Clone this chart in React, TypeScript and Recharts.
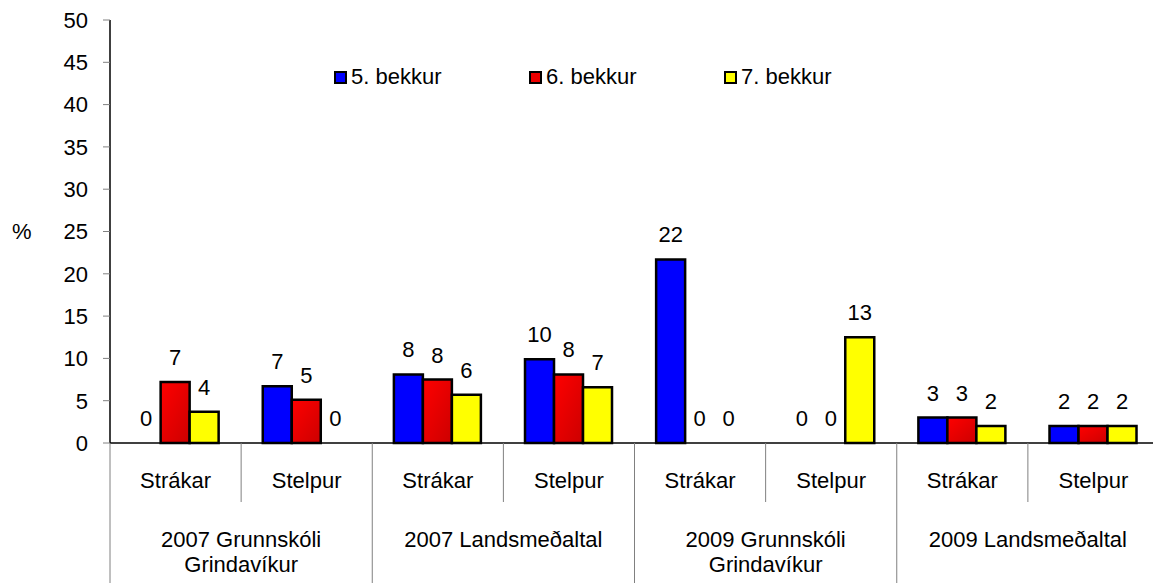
import React from 'react';
import { BarChart, Bar, XAxis, YAxis, LabelList, Legend, Rectangle } from 'recharts';

const CATEGORIES = ['Strákar', 'Stelpur', 'Strákar', 'Stelpur', 'Strákar', 'Stelpur', 'Strákar', 'Stelpur'];
const GROUP_LINES = [
  ['2007 Grunnskóli', 'Grindavíkur'],
  ['2007 Landsmeðaltal'],
  ['2009 Grunnskóli', 'Grindavíkur'],
  ['2009 Landsmeðaltal'],
];
const BEKKUR5 = [0, 6.7, 8.1, 9.9, 21.7, 0, 3.0, 2.0];
const BEKKUR6 = [7.2, 5.1, 7.5, 8.1, 0, 0, 3.0, 2.0];
const BEKKUR7 = [3.7, 0, 5.7, 6.6, 0, 12.5, 2.0, 2.0];
const SERIES_NAMES = ['5. bekkur', '6. bekkur', '7. bekkur'];
const SERIES_KEYS = ['b5', 'b6', 'b7'];
const SERIES_FILLS = ['#0000FF', 'url(#redGrad)', '#FFFF00'];
const LEGEND_FILLS = ['#0000FF', '#EE0000', '#FFFF00'];
const Y_TICKS = [0, 5, 10, 15, 20, 25, 30, 35, 40, 45, 50];

const data = CATEGORIES.map((c, i) => ({
  id: `${i}`,
  b5: BEKKUR5[i],
  b6: BEKKUR6[i],
  b7: BEKKUR7[i],
}));

const FONT = 'Arial, "Liberation Sans", sans-serif';
const FS = 22;

function XTick(props: any) {
  const { x, y, payload, index } = props;
  const half = payload && typeof payload.offset === 'number' && payload.offset > 0 ? payload.offset : 65.5;
  const left = x - half;
  const isGroupStart = index % 2 === 0;
  const groupLines = GROUP_LINES[Math.floor(index / 2)] || [];
  return (
    <g>
      <line x1={left} y1={y} x2={left} y2={isGroupStart ? 583 : y + 59} stroke="#808080" strokeWidth={1} />
      <text x={x} y={y + 45} textAnchor="middle" fontSize={FS} fill="#000" fontFamily={FONT}>
        {CATEGORIES[index]}
      </text>
      {isGroupStart &&
        groupLines.map((ln, k) => (
          <text key={k} x={x + half} y={y + 104 + k * 25} textAnchor="middle" fontSize={FS} fill="#000" fontFamily={FONT}>
            {ln}
          </text>
        ))}
    </g>
  );
}

function ValueLabel(props: any) {
  const vb = props.viewBox || {};
  const x = typeof props.x === 'number' ? props.x : vb.x;
  const y = typeof props.y === 'number' ? props.y : vb.y;
  const w = typeof props.width === 'number' ? props.width : vb.width;
  const h = typeof props.height === 'number' ? props.height : vb.height || 0;
  const top = Math.min(y, y + h);
  const v = Number(props.value);
  if (!isFinite(v) || typeof x !== 'number') return null;
  return (
    <text x={x + w / 2} y={top - 17} textAnchor="middle" fontSize={FS} fill="#000" fontFamily={FONT}>
      {Math.round(v)}
    </text>
  );
}

function BarShape(props: any) {
  if (!(Math.abs(props.height) >= 0.5)) return <g />;
  return <Rectangle {...props} />;
}

const zeroMin = (v: any) => (Number(v) === 0 ? 0.01 : 0);

function renderLegend() {
  return (
    <div style={{ display: 'flex', flexDirection: 'row', fontFamily: FONT, fontSize: FS, color: '#000' }}>
      {SERIES_NAMES.map((n, i) => (
        <div key={n} style={{ width: 195, display: 'flex', alignItems: 'center' }}>
          <span
            style={{
              display: 'inline-block',
              width: 9,
              height: 9,
              background: LEGEND_FILLS[i],
              border: '2px solid #000',
              marginRight: 4,
            }}
          />
          <span>{n}</span>
        </div>
      ))}
    </div>
  );
}

export default function App() {
  return (
    <div
      style={{
        position: 'absolute',
        left: 0,
        top: 0,
        width: 1153,
        height: 583,
        overflow: 'hidden',
        background: '#fff',
        fontFamily: FONT,
      }}
    >
      <BarChart
        width={1170}
        height={583}
        data={data}
        margin={{ top: 20, right: 11, left: 10, bottom: 0 }}
        barCategoryGap="16.5%"
        barGap={0}
      >
        <defs>
          <linearGradient id="redGrad" x1="0" y1="0" x2="1" y2="1">
            <stop offset="0%" stopColor="#FF0000" />
            <stop offset="100%" stopColor="#CC0000" />
          </linearGradient>
        </defs>
        <Legend
          layout="horizontal"
          verticalAlign="middle"
          align="center"
          content={renderLegend}
          wrapperStyle={{ position: 'absolute', top: 64, left: 334, width: 620 }}
        />
        <XAxis
          dataKey="id"
          height={140}
          interval={0}
          tickLine={false}
          tickSize={0}
          tickMargin={0}
          axisLine={{ stroke: '#000', strokeWidth: 1.5 }}
          tick={<XTick />}
        />
        <YAxis
          width={100}
          domain={[0, 50]}
          ticks={Y_TICKS}
          interval={0}
          tickSize={7}
          tickMargin={15}
          axisLine={{ stroke: '#000', strokeWidth: 1.5 }}
          tickLine={{ stroke: '#808080' }}
          tick={{ fontSize: FS, fill: '#000', fontFamily: FONT }}
          label={{ value: '%', position: 'insideLeft', offset: 2, fontSize: FS, fill: '#000', fontFamily: FONT }}
        />
        {SERIES_KEYS.map((k, i) => (
          <Bar
            key={k}
            dataKey={k}
            name={SERIES_NAMES[i]}
            fill={SERIES_FILLS[i]}
            stroke="#000"
            strokeWidth={2.5}
            minPointSize={zeroMin}
            shape={<BarShape />}
            isAnimationActive={false}
          >
            <LabelList dataKey={k} content={<ValueLabel />} />
          </Bar>
        ))}
      </BarChart>
    </div>
  );
}
